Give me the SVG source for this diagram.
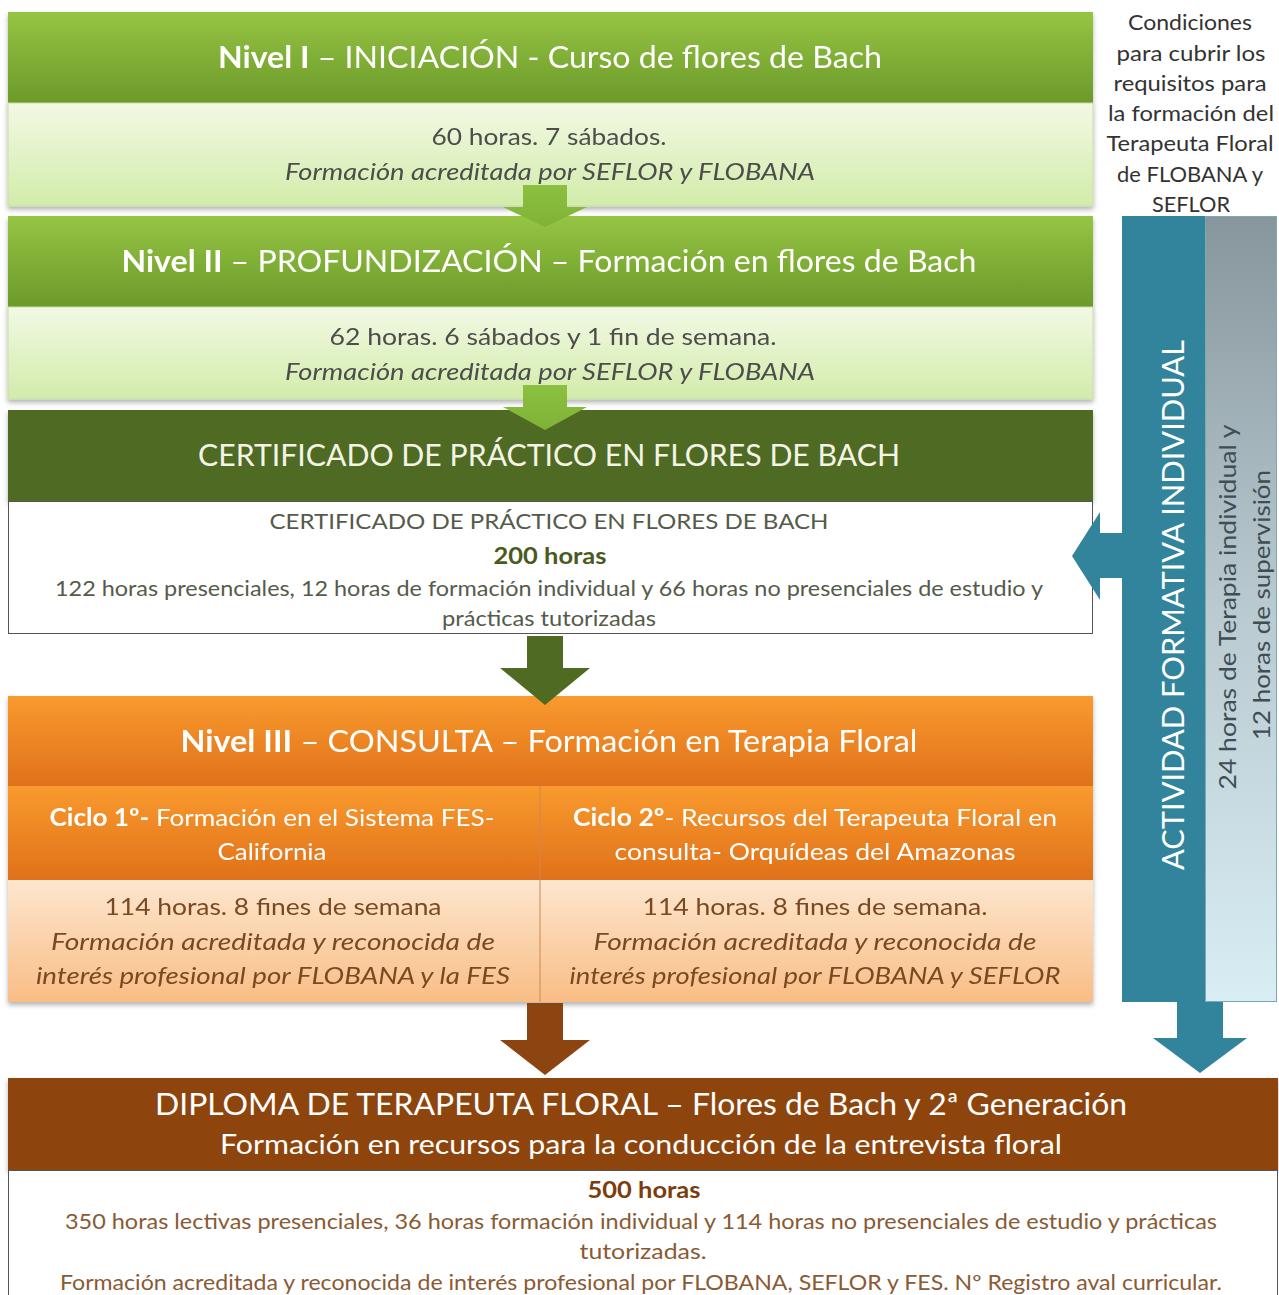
<svg xmlns="http://www.w3.org/2000/svg" width="1279" height="1295" viewBox="0 0 1279 1295">
<defs>
<linearGradient id="gHead" x1="0" y1="0" x2="0" y2="1"><stop offset="0" stop-color="#96c443"/><stop offset="1" stop-color="#6b9a2a"/></linearGradient>
<linearGradient id="gBody" x1="0" y1="0" x2="0" y2="1"><stop offset="0" stop-color="#f2f9e4"/><stop offset="1" stop-color="#d2ecaa"/></linearGradient>
<linearGradient id="gArrowL" x1="0" y1="0" x2="0" y2="1"><stop offset="0" stop-color="#8cc040"/><stop offset="1" stop-color="#7fb236"/></linearGradient>
<linearGradient id="oHead" x1="0" y1="0" x2="0" y2="1"><stop offset="0" stop-color="#f99a2e"/><stop offset="1" stop-color="#e0711a"/></linearGradient>
<linearGradient id="oBody" x1="0" y1="0" x2="0" y2="1"><stop offset="0" stop-color="#fde6cf"/><stop offset="1" stop-color="#f9bd85"/></linearGradient>
<linearGradient id="grayBar" x1="0" y1="0" x2="0" y2="1"><stop offset="0" stop-color="#86969c"/><stop offset="0.5" stop-color="#b9cad0"/><stop offset="1" stop-color="#d8edf4"/></linearGradient>
<filter id="sh" x="-5%" y="-5%" width="110%" height="120%"><feDropShadow dx="0" dy="3" stdDeviation="2.5" flood-color="#000" flood-opacity="0.3"/></filter>
</defs>
<style>
text{font-family:Lato,"Open Sans","Liberation Sans",sans-serif;text-anchor:middle}
.t{fill:#ffffff;font-size:30px}
.b{font-weight:bold}
.g{fill:#4d4d4d;font-size:23px}
.gi{fill:#4d4d4d;font-size:23px;font-style:italic}
.cg{fill:#555b4a;font-size:21px}
.o{fill:#ffffff;font-size:24px}
.ob{fill:#7a4a22;font-size:23px}
.obi{fill:#7a4a22;font-size:23px;font-style:italic}
.d{fill:#8a5a33;font-size:21px}
.r{fill:#333333;font-size:21px}
</style>
<rect width="1279" height="1295" fill="#ffffff"/>

<g id="nivel1" filter="url(#sh)">
<rect x="8" y="12" width="1085" height="91" fill="url(#gHead)"/>
<rect x="8" y="103" width="1085" height="103" fill="url(#gBody)" stroke="#c7dca8" stroke-width="1"/>
<text x="550" y="68" class="t" textLength="664" lengthAdjust="spacingAndGlyphs"><tspan class="b">Nivel I</tspan> – INICIACIÓN - Curso de flores de Bach</text>
<text x="549" y="145" class="g" textLength="235" lengthAdjust="spacingAndGlyphs">60 horas.  7 sábados.</text>
<text x="550" y="180" class="gi" textLength="530" lengthAdjust="spacingAndGlyphs">Formación acreditada por SEFLOR y FLOBANA</text>
</g>

<g id="nivel2" filter="url(#sh)">
<rect x="8" y="216" width="1085" height="91" fill="url(#gHead)"/>
<rect x="8" y="307" width="1085" height="92" fill="url(#gBody)" stroke="#c7dca8" stroke-width="1"/>
<text x="549" y="272" class="t" textLength="855" lengthAdjust="spacingAndGlyphs"><tspan class="b">Nivel II</tspan> – PROFUNDIZACIÓN – Formación en flores de Bach</text>
<text x="553" y="345" class="g" textLength="447" lengthAdjust="spacingAndGlyphs">62 horas.  6 sábados  y 1 fin de semana.</text>
<text x="550" y="380" class="gi" textLength="530" lengthAdjust="spacingAndGlyphs">Formación acreditada por SEFLOR y FLOBANA</text>
</g>

<g id="certificado">
<rect x="8" y="410" width="1085" height="91" fill="#4f6b22" filter="url(#sh)"/>
<rect x="8.5" y="501.5" width="1084" height="132" fill="#ffffff" stroke="#555555" stroke-width="1"/>
<text x="549" y="466" class="t" style="fill:#f4f4e6" textLength="702" lengthAdjust="spacingAndGlyphs">CERTIFICADO DE PRÁCTICO EN FLORES DE BACH</text>
<text x="549" y="529" class="cg" textLength="559" lengthAdjust="spacingAndGlyphs">CERTIFICADO  DE PRÁCTICO  EN FLORES DE BACH</text>
<text x="550" y="564" class="b" style="fill:#4a5a1e;font-size:22px" textLength="113" lengthAdjust="spacingAndGlyphs">200 horas</text>
<text x="549" y="596" class="cg" textLength="988" lengthAdjust="spacingAndGlyphs">122 horas presenciales, 12 horas de formación individual y 66 horas no presenciales de estudio y</text>
<text x="549" y="626" class="cg" textLength="214" lengthAdjust="spacingAndGlyphs">prácticas tutorizadas</text>
</g>

<g id="nivel3" filter="url(#sh)">
<rect x="8" y="696" width="1085" height="90" fill="url(#oHead)"/>
<rect x="8" y="786" width="532" height="94" fill="url(#oHead)"/>
<rect x="540" y="786" width="553" height="94" fill="url(#oHead)"/>
<rect x="8" y="880" width="532" height="122" fill="url(#oBody)"/>
<rect x="540" y="880" width="553" height="122" fill="url(#oBody)"/>
<line x1="540" y1="786" x2="540" y2="1002" stroke="#c98a55" stroke-width="1"/>
<text x="549" y="752" class="t" textLength="737" lengthAdjust="spacingAndGlyphs"><tspan class="b">Nivel III</tspan> – CONSULTA – Formación en Terapia Floral</text>
<text x="272" y="826" class="o" textLength="445" lengthAdjust="spacingAndGlyphs"><tspan class="b">Ciclo 1º-</tspan> Formación en el Sistema FES-</text>
<text x="272" y="860" class="o" textLength="109" lengthAdjust="spacingAndGlyphs">California</text>
<text x="815" y="826" class="o" textLength="484" lengthAdjust="spacingAndGlyphs"><tspan class="b">Ciclo 2º</tspan>- Recursos  del Terapeuta  Floral en</text>
<text x="815" y="860" class="o" textLength="401" lengthAdjust="spacingAndGlyphs">consulta- Orquídeas  del Amazonas</text>
<text x="273" y="915" class="ob" textLength="337" lengthAdjust="spacingAndGlyphs">114 horas.  8 fines  de semana</text>
<text x="273" y="950" class="obi" textLength="444" lengthAdjust="spacingAndGlyphs">Formación acreditada y reconocida de</text>
<text x="273" y="984" class="obi" textLength="474" lengthAdjust="spacingAndGlyphs">interés profesional por FLOBANA y la FES</text>
<text x="815" y="915" class="ob" textLength="345" lengthAdjust="spacingAndGlyphs">114 horas.  8 fines  de semana.</text>
<text x="815" y="950" class="obi" textLength="443" lengthAdjust="spacingAndGlyphs">Formación acreditada y reconocida de</text>
<text x="815" y="984" class="obi" textLength="491" lengthAdjust="spacingAndGlyphs">interés profesional por FLOBANA y SEFLOR</text>
</g>

<g id="diploma">
<rect x="8" y="1078" width="1270" height="92" fill="#8e4511" filter="url(#sh)"/>
<rect x="8.5" y="1170.5" width="1269" height="130" fill="#ffffff" stroke="#555555" stroke-width="1"/>
<text x="641" y="1115" class="t" textLength="972" lengthAdjust="spacingAndGlyphs">DIPLOMA DE TERAPEUTA FLORAL – Flores de Bach y 2ª Generación</text>
<text x="641" y="1154" class="t" style="font-size:26px" textLength="842" lengthAdjust="spacingAndGlyphs">Formación en recursos para la conducción de  la entrevista floral</text>
<text x="644" y="1198" class="b" style="fill:#7a3e0c;font-size:22px" textLength="113" lengthAdjust="spacingAndGlyphs">500 horas</text>
<text x="641" y="1229" class="d" textLength="1152" lengthAdjust="spacingAndGlyphs">350 horas lectivas presenciales, 36 horas formación individual y 114 horas no presenciales de estudio y prácticas</text>
<text x="643" y="1259" class="d" textLength="127" lengthAdjust="spacingAndGlyphs">tutorizadas.</text>
<text x="641" y="1290" class="d" textLength="1162" lengthAdjust="spacingAndGlyphs">Formación acreditada y reconocida de interés profesional por FLOBANA, SEFLOR y FES. Nº Registro aval curricular.</text>
</g>

<g id="condiciones">
<text x="1190" y="30" class="r" textLength="124" lengthAdjust="spacingAndGlyphs">Condiciones</text>
<text x="1191" y="61" class="r" textLength="149" lengthAdjust="spacingAndGlyphs">para cubrir los</text>
<text x="1190" y="91" class="r" textLength="153" lengthAdjust="spacingAndGlyphs">requisitos para</text>
<text x="1191" y="121" class="r" textLength="166" lengthAdjust="spacingAndGlyphs">la formación del</text>
<text x="1190" y="151" class="r" textLength="167" lengthAdjust="spacingAndGlyphs">Terapeuta Floral</text>
<text x="1190" y="182" class="r" textLength="146" lengthAdjust="spacingAndGlyphs">de FLOBANA y</text>
<text x="1191" y="212" class="r" textLength="78" lengthAdjust="spacingAndGlyphs">SEFLOR</text>
</g>

<g id="actividad">
<rect x="1122" y="216" width="83" height="786" fill="#31849b"/>
<rect x="1205.5" y="216.5" width="71" height="785" fill="url(#grayBar)" stroke="#7fa8b5" stroke-width="1"/>
<text transform="translate(1184,605) rotate(-90)" style="fill:#ffffff;font-size:30px" textLength="530" lengthAdjust="spacingAndGlyphs">ACTIVIDAD FORMATIVA INDIVIDUAL</text>
<text transform="translate(1236,607) rotate(-90)" style="fill:#3f4e55;font-size:24px" textLength="365" lengthAdjust="spacingAndGlyphs">24 horas de Terapia individual y</text>
<text transform="translate(1270,605) rotate(-90)" style="fill:#3f4e55;font-size:24px" textLength="270" lengthAdjust="spacingAndGlyphs">12 horas de supervisión</text>
</g>

<g id="connectors">
<path d="M523,185 H567 V207 H587 L545,227 L503,207 H523 Z" fill="url(#gArrowL)"/>
<path d="M523,385 H567 V407 H587 L545,430 L503,407 H523 Z" fill="url(#gArrowL)"/>
<path d="M527,636 H563 V668 H590 L545,705 L500,668 H527 Z" fill="#4f6b22"/>
<path d="M527,1003 H563 V1040 H590 L545,1075 L500,1040 H527 Z" fill="#8c4510"/>
<path d="M1122,533 H1100 V512 L1072,556 L1100,600 V578 H1122 Z" fill="#31849b"/>
<path d="M1177,1002 H1223 V1038 H1247 L1200,1073 L1153,1038 H1177 Z" fill="#31849b"/>
</g>
</svg>
